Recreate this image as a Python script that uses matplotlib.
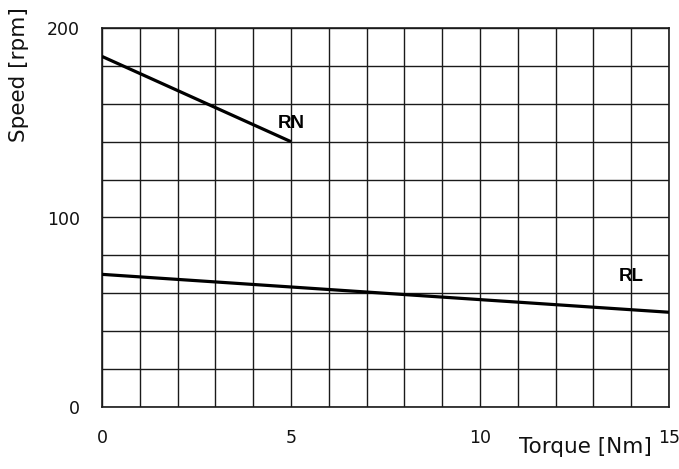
import matplotlib
matplotlib.use("Agg")
import matplotlib.pyplot as plt
from matplotlib.ticker import MultipleLocator

# curve end points
rn_torque = [0, 5]
rn_speed = [185, 140]
rl_torque = [0, 15]
rl_speed = [70, 50]

curve_labels = ["RN", "RL"]
label_pos = [(5.0, 149.5), (14.0, 69)]

x_ticks = [0, 5, 10, 15]
y_ticks = [0, 100, 200]

plt.rcParams["font.family"] = ["DejaVu Sans"]

fig = plt.figure(figsize=(6.79, 4.69), dpi=100)
ax = fig.add_axes([102 / 679, 1 - 407 / 469, 567 / 679, 379 / 469])

ax.plot(rn_torque, rn_speed, color="black", lw=2.3, solid_capstyle="butt", zorder=3)
ax.plot(rl_torque, rl_speed, color="black", lw=2.3, solid_capstyle="butt", zorder=3)

for txt, (tx, ty) in zip(curve_labels, label_pos):
    ax.text(tx, ty, txt, ha="center", va="center", fontsize=13.5,
            fontweight="bold", family="Liberation Sans", zorder=4)

ax.set_xlim(0, 15)
ax.set_ylim(0, 200)
ax.xaxis.set_minor_locator(MultipleLocator(1))
ax.yaxis.set_minor_locator(MultipleLocator(20))
ax.set_xticks(x_ticks)
ax.set_yticks(y_ticks)
ax.grid(True, which="both", color="#1a1a1a", lw=1.0)
ax.set_axisbelow(True)
ax.tick_params(which="both", length=0, labelsize=12.5, labelcolor="#111111")
ax.tick_params(axis="y", pad=16)
ax.tick_params(axis="x", pad=16)
for s in ax.spines.values():
    s.set_color("#1a1a1a")
    s.set_linewidth(1.2)

ax.set_xlabel("Torque [Nm]", fontsize=15.5, color="#111111", loc="right")
ax.xaxis.set_label_coords(0.97, -0.08)
ax.set_ylabel("Speed [rpm]", fontsize=15.5, color="#111111", loc="top")
ax.yaxis.set_label_coords(-0.128, 1.055)

fig.savefig("out.png", dpi=100)
